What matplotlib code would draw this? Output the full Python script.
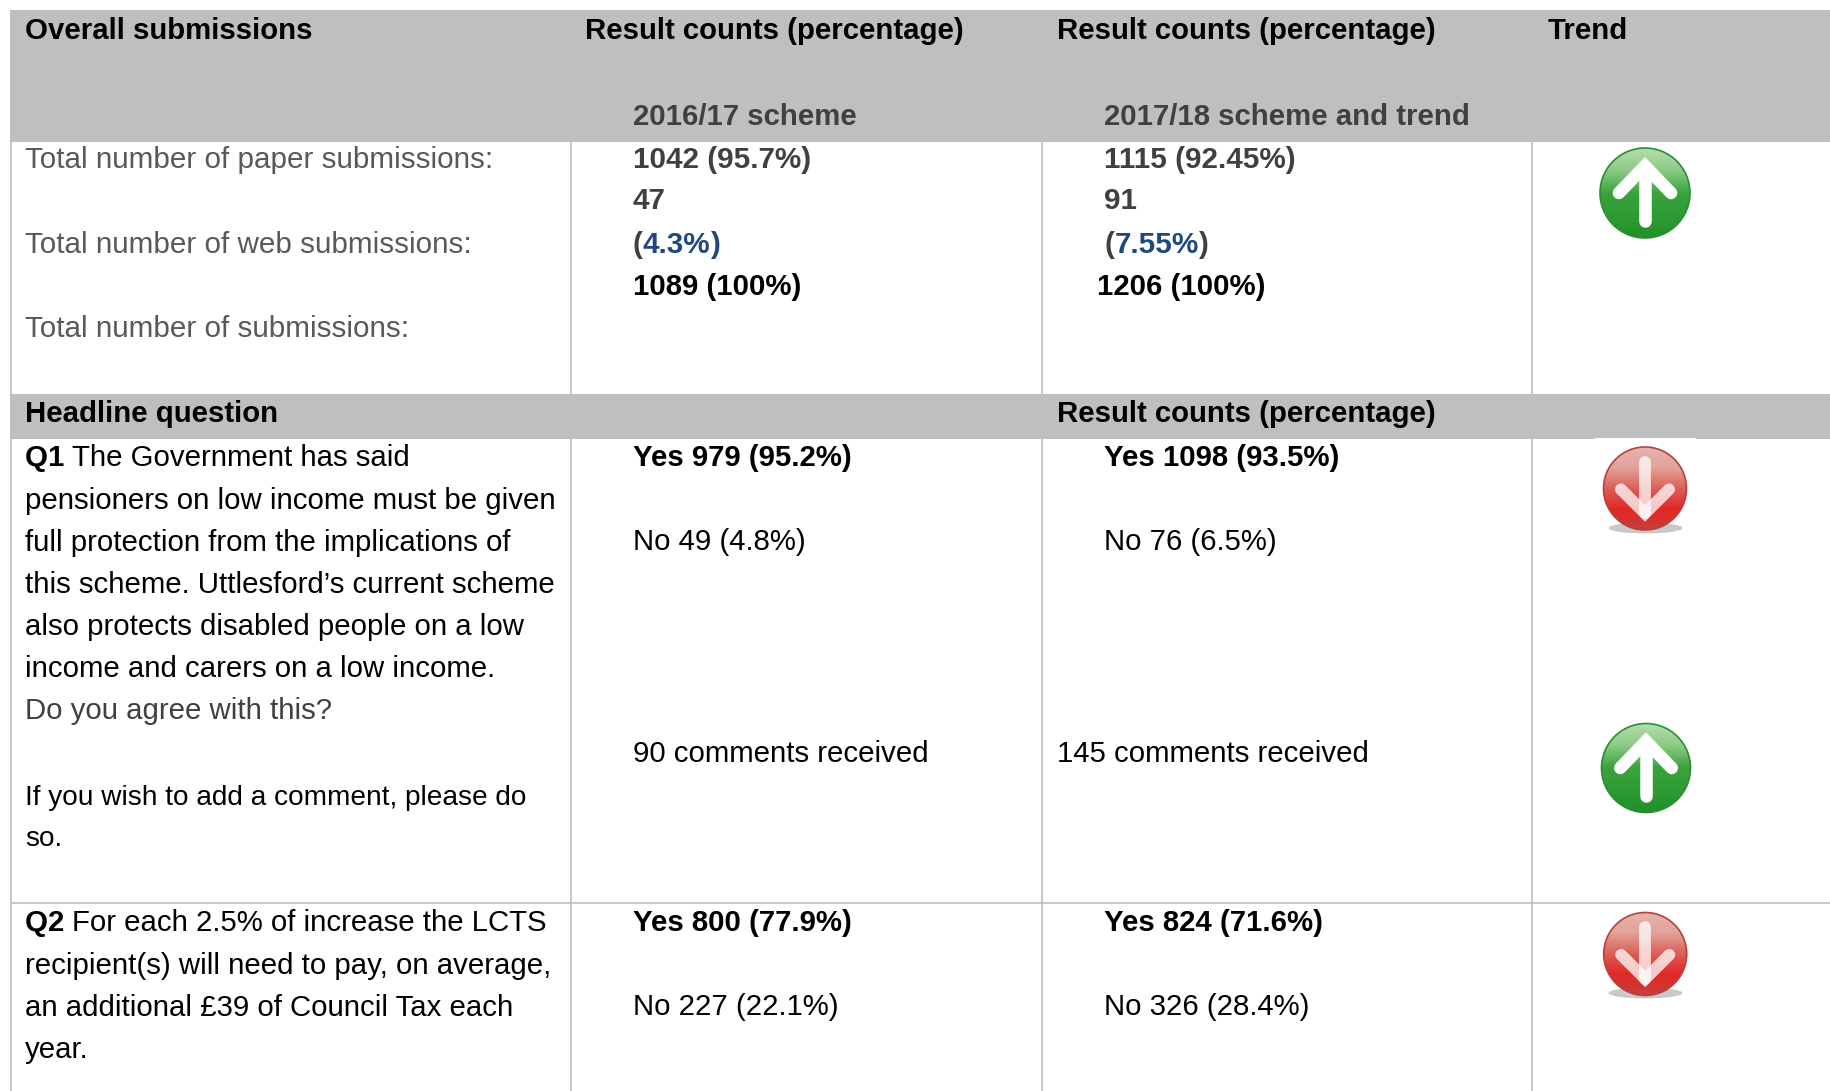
import numpy as np
import matplotlib
matplotlib.use("Agg")
import matplotlib.pyplot as plt
from matplotlib.patches import Rectangle, Ellipse
from matplotlib.colors import LinearSegmentedColormap

plt.rcParams['font.family'] = ['Liberation Sans', 'DejaVu Sans']

# ---- content ----
header_titles = ["Overall submissions", "Result counts (percentage)", "Result counts (percentage)", "Trend"]
header_schemes = ["2016/17 scheme", "2017/18 scheme and trend"]
submission_labels = ["Total number of paper submissions:", "Total number of web submissions:", "Total number of submissions:"]
paper_counts = ["1042 (95.7%)", "1115 (92.45%)"]
web_counts = ["47", "91"]
web_shares = ["4.3%", "7.55%"]
total_counts = ["1089 (100%)", "1206 (100%)"]
section_titles = ["Headline question", "Result counts (percentage)"]
q1_lead = "The Government has said"
q1_lines = ["pensioners on low income must be given", "full protection from the implications of",
            "this scheme. Uttlesford\u2019s current scheme", "also protects disabled people on a low",
            "income and carers on a low income."]
q1_ask = "Do you agree with this?"
q1_comment = ["If you wish to add a comment, please do", "so."]
q1_yes = ["Yes 979 (95.2%)", "Yes 1098 (93.5%)"]
q1_no = ["No 49 (4.8%)", "No 76 (6.5%)"]
q1_comments = ["90 comments received", "145 comments received"]
q2_lead = "For each 2.5% of increase the LCTS"
q2_lines = ["recipient(s) will need to pay, on average,", "an additional \u00a339 of Council Tax each", "year."]
q2_yes = ["Yes 800 (77.9%)", "Yes 824 (71.6%)"]
q2_no = ["No 227 (22.1%)", "No 326 (28.4%)"]

# ---- canvas ----
W, H = 1831, 1091
fig = plt.figure(figsize=(W / 100, H / 100), dpi=100, facecolor='white')
ax = fig.add_axes([0, 0, 1, 1])
ax.axis('off')
FS = 21.15
FS_GREY = 21.35
FS_SMALL = 20.2
BAND = '#BFBFBF'
LINE = '#BDBDBD'
DARK = '#404040'
GREY = '#595959'
BLUE = '#1F497D'
XL, X1, X2, X3 = 11, 571, 1042.5, 1532.5
TL, T1, T2 = 25, 633, 1104.5


def t(x, y, s, color='black', bold=False, size=FS):
    return ax.text(x, y, s, fontsize=size, color=color, va='baseline', ha='left',
                   fontweight='bold' if bold else 'normal')


def runs(x, y, parts, size=FS):
    """Draw consecutive (text, color, bold) pieces on one baseline."""
    rend = fig.canvas.get_renderer()
    for s, c, b in parts:
        tx = t(x, y, s, c, b, size)
        x += tx.get_window_extent(rend).width
    return x


def icon(cx, cy, r, stops, arrow_pts, arrow_alpha, edge, lw):
    cmap = LinearSegmentedColormap.from_list('g', stops)
    grad = np.linspace(0, 1, 256).reshape(-1, 1)
    im = ax.imshow(grad, cmap=cmap, extent=(cx - r, cx + r, cy + r, cy - r), aspect='auto', zorder=3)
    clip = Ellipse((cx, cy), 2 * r, 2 * r, transform=ax.transData, fc='none', ec='none')
    ax.add_patch(clip)
    im.set_clip_path(clip)
    ax.add_patch(Ellipse((cx, cy), 2 * r, 2 * r, fc='none', ec=edge, lw=1.2, zorder=4))
    for pts in arrow_pts:
        xs = [cx + p[0] * r for p in pts]
        ys = [cy + p[1] * r for p in pts]
        ax.plot(xs, ys, color='white', alpha=arrow_alpha, lw=lw,
                solid_capstyle='round', solid_joinstyle='miter', zorder=5)


GREEN = ['#B4DDAE', '#8CCB85', '#3AA23E', '#2E9C33', '#22902A']
RED = ['#E6B4AE', '#E2A29A', '#DA5F58', '#E32626', '#C5403B']
UP = [[(0, 0.62), (0, -0.55)], [(-0.58, 0.0), (0, -0.6), (0.58, 0.0)]]
DOWN = [[(0, -0.65), (0, 0.6)], [(-0.58, 0.02), (0, 0.6), (0.58, 0.02)]]

# ---- bands and rules ----
ax.add_patch(Rectangle((XL - 1, 10), W - XL, 132, fc=BAND, ec='none'))
ax.add_patch(Rectangle((XL - 1, 394), W - XL, 45, fc=BAND, ec='none'))
ax.add_patch(Rectangle((1595, 437.5), 101, 2.5, fc='white', ec='none', zorder=2))
for x in (XL, X1, X2, X3):
    ax.plot([x, x], [142, 394], color=LINE, lw=1.2, zorder=1, solid_capstyle='butt')
    ax.plot([x, x], [439, H], color=LINE, lw=1.2, zorder=1, solid_capstyle='butt')
ax.plot([XL, W], [903.3, 903.3], color=LINE, lw=1.2, zorder=1, solid_capstyle='butt')

# ---- header ----
for x, s in zip((TL, 585, 1057, 1548), header_titles):
    t(x, 39, s, bold=True)
for x, s in zip((T1, T2), header_schemes):
    t(x, 125, s, DARK, True)

# ---- overall submissions ----
for y, s in zip((168, 253, 337), submission_labels):
    t(TL, y, s, GREY, size=FS_GREY)
for i, x in enumerate((T1, T2)):
    t(x, 168, paper_counts[i], DARK, True, FS_GREY)
    t(x, 209, web_counts[i], DARK, True, FS_GREY)
    runs(x, 253, [("(", DARK, True), (web_shares[i], BLUE, True), (")", BLUE if i == 0 else DARK, True)], FS_GREY)
t(T1, 295, total_counts[0], bold=True)
t(T2 - 7, 295, total_counts[1], bold=True)

# ---- section band ----
t(TL, 422, section_titles[0], bold=True)
t(1057, 422, section_titles[1], bold=True)

# ---- Q1 ----
PITCH = 42.15
runs(TL, 466, [("Q1 ", 'black', True), (q1_lead, 'black', False)])
for i, s in enumerate(q1_lines):
    t(TL, 466.6 + PITCH * (i + 1), s)
t(TL, 719, q1_ask, DARK)
for y, s in zip((805, 846), q1_comment):
    t(TL, y, s, size=FS_SMALL)
for i, x in enumerate((T1, T2)):
    t(x, 466, q1_yes[i], bold=True)
    t(x, 550.5, q1_no[i])
t(T1, 761.5, q1_comments[0])
t(1057, 761.5, q1_comments[1])

# ---- Q2 ----
runs(TL, 931, [("Q2 ", 'black', True), (q2_lead, 'black', False)])
for i, s in enumerate(q2_lines):
    t(TL, 931.6 + PITCH * (i + 1), s)
for i, x in enumerate((T1, T2)):
    t(x, 931, q2_yes[i], bold=True)
    t(x, 1015, q2_no[i])

# ---- trend icons ----
icon(1645.0, 193, 45, GREEN, UP, 1.0, '#2A8F32', 9)
icon(1646.0, 768, 44.5, GREEN, UP, 1.0, '#2A8F32', 9)
ax.add_patch(Ellipse((1645.5, 528), 74, 11, fc='#888888', ec='none', alpha=0.45, zorder=2))
ax.add_patch(Ellipse((1645.5, 993), 74, 11, fc='#888888', ec='none', alpha=0.45, zorder=2))
icon(1645.0, 488.5, 41.5, RED, DOWN, 0.75, '#B8403C', 8.5)
icon(1645.2, 954, 41.5, RED, DOWN, 0.75, '#B8403C', 8.5)

ax.set_xlim(0, W)
ax.set_ylim(H, 0)
fig.savefig('out.png', dpi=100, facecolor='white')
